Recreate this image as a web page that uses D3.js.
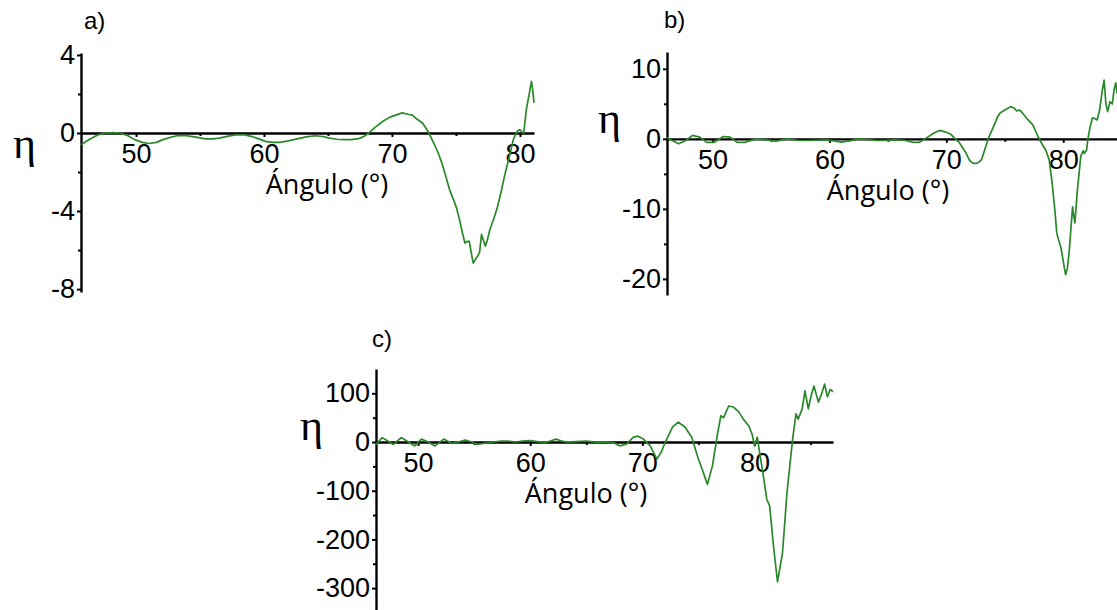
<!DOCTYPE html>
<html>
<head>
<meta charset="utf-8">
<script src="https://cdn.jsdelivr.net/npm/d3@7"></script>
<style>
  body { margin: 0; background: #fff; }
  svg { display: block; }
</style>
</head>
<body>
<svg id="fig" width="1117" height="610"></svg>
<script>
// panel a) angle (deg) and eta
const angA = [45.7, 46.3, 47.0, 47.6, 48.2, 48.75, 49.3, 49.9, 50.5, 51.0,
  51.6, 52.1, 52.7, 53.2, 53.8, 54.3, 54.9, 55.4, 56.0, 56.5,
  57.2, 57.9, 58.5, 59.0, 59.6, 60.1, 60.7, 61.25, 61.9, 62.6,
  63.3, 64.0, 64.6, 65.1, 65.7, 66.25, 66.8, 67.4, 67.8, 68.2,
  68.7, 69.3, 69.8, 70.4, 70.8, 71.25, 71.6, 71.9, 72.4, 72.8,
  73.2, 73.6, 73.9, 74.2, 74.5, 74.8, 75.05, 75.3, 75.5, 75.7,
  75.9, 76.04, 76.2, 76.35, 76.5, 76.7, 76.85, 77.0, 77.15, 77.3,
  77.45, 77.65, 77.9, 78.2, 78.5, 78.8, 79.1, 79.5, 79.8, 80.0,
  80.15, 80.3, 80.5, 80.7, 80.9, 81.0, 81.1];
const etaA = [-0.6, -0.35, -0.1, 0, 0.02, 0, -0.12, -0.34, -0.48, -0.54,
  -0.48, -0.34, -0.22, -0.14, -0.13, -0.17, -0.24, -0.3, -0.3, -0.26,
  -0.16, -0.09, -0.1, -0.17, -0.3, -0.43, -0.48, -0.48, -0.4, -0.3,
  -0.2, -0.14, -0.18, -0.26, -0.32, -0.34, -0.34, -0.29, -0.18, 0,
  0.3, 0.6, 0.8, 0.94, 1.03, 0.96, 0.92, 0.74, 0.5, 0.1,
  -0.43, -1.0, -1.54, -2.2, -2.9, -3.4, -3.85, -4.5, -5.1, -5.64,
  -5.55, -5.56, -6.15, -6.67, -6.5, -6.3, -6.1, -5.2, -5.5, -5.8,
  -5.5, -4.96, -4.5, -3.9, -3.1, -2.2, -1.4, -0.3, 0.1, 0.17,
  0.05, 0, 1.2, 1.9, 2.65, 2.2, 1.54];

// panel b)
const angB = [46.1, 46.5, 47.1, 47.7, 48.3, 48.9, 49.5, 50.15, 50.9, 51.5,
  52.1, 52.75, 53.7, 54.6, 55.4, 56.4, 57.2, 58.0, 58.9, 59.8,
  60.4, 61.0, 61.7, 62.5, 63.3, 64.1, 64.8, 65.6, 66.4, 67.1,
  67.7, 68.4, 68.9, 69.4, 69.9, 70.35, 70.7, 71.1, 71.6, 72.0,
  72.3, 72.6, 72.8, 73.0, 73.3, 73.6, 74.0, 74.4, 74.6, 74.9,
  75.2, 75.5, 75.8, 76.0, 76.3, 76.6, 77.0, 77.4, 77.85, 78.2,
  78.5, 78.8, 79.05, 79.3, 79.45, 79.6, 79.8, 80.0, 80.2, 80.35,
  80.5, 80.65, 80.8, 80.9, 81.0, 81.2, 81.5, 81.7, 81.8, 82.0,
  82.1, 82.3, 82.5, 82.7, 82.9, 83.1, 83.35, 83.5, 83.65, 83.8,
  84.0, 84.2, 84.35, 84.5, 84.6];
const etaB = [0.2, -0.2, -0.7, -0.24, 0.5, 0.24, -0.5, -0.5, 0.33, 0.24,
  -0.5, -0.5, 0, -0.14, -0.33, 0, -0.2, -0.24, -0.2, -0.14,
  -0.3, -0.48, -0.3, 0, -0.1, -0.24, -0.2, -0.14, -0.2, -0.48,
  -0.5, 0.24, 0.8, 1.2, 1.0, 0.7, 0.1, -0.5, -1.8, -3.1,
  -3.5, -3.5, -3.3, -3.0, -1.5, 0.1, 1.6, 3.2, 3.7, 4.0,
  4.3, 4.6, 4.4, 4.0, 4.1, 3.5, 2.7, 2.0, 0.3, -0.8,
  -1.6, -3.0, -6.3, -10.5, -13.5, -14.4, -15.5, -17.5, -19.4, -18.5,
  -16.3, -13, -9.7, -11, -12, -7.5, -2.5, -1.7, -2.1, -1.6,
  -0.1, 1.7, 3.0, 2.9, 2.7, 4.0, 7.0, 8.4, 5.0, 3.9,
  5.3, 5.0, 7.0, 8.0, 6.5];

// panel c)
const angC = [46.25, 46.8, 47.3, 47.8, 48.5, 49.0, 49.7, 50.3, 51.0, 51.5,
  52.3, 53.0, 53.6, 54.2, 54.8, 55.3, 56.0, 56.7, 57.4, 58.0,
  58.7, 59.3, 60.0, 60.6, 61.3, 61.8, 62.3, 62.8, 63.3, 64.1,
  65.0, 65.8, 66.7, 67.5, 68.0, 68.6, 69.2, 69.6, 70.1, 70.7,
  71.3, 71.7, 72.05, 72.7, 73.2, 73.8, 74.4, 75.0, 75.4, 75.8,
  76.25, 76.7, 77.0, 77.25, 77.7, 78.1, 78.6, 79.0, 79.5, 79.8,
  80.0, 80.25, 80.45, 80.7, 81.1, 81.35, 81.7, 82.05, 82.5, 82.9,
  83.4, 83.7, 83.9, 84.25, 84.5, 84.8, 85.05, 85.3, 85.7, 86.0,
  86.25, 86.5, 86.75, 87.0];
const etaC = [-5, 9, 2, -5, 9, 2, -8, 6, -1, -8,
  6, -3, 0, 4, 0, -5, -2, 0, 2, 2,
  0, 2, 3, 1, -1, 2, 6, 2, 0, 1,
  2, 0, 0, -2, -8, -4, 10, 12, 6, -8,
  -35, -20, 0, 31, 41, 31, 10, -35, -60, -87,
  -49, 16, 54, 50, 74, 72, 62, 47, 33, 15,
  -8, 10, -20, -56, -118, -131, -215, -287, -227, -103,
  6, 58, 47, 68, 105, 68, 95, 115, 82, 100,
  119, 93, 108, 103];

// ticks
const xMajor = [50, 60, 70, 80];
const xMinor = [55, 65, 75, 85];
const yMajorA = [4, 0, -4, -8], yMinorA = [2, -2, -6];
const yMajorB = [10, 0, -10, -20], yMinorB = [5, -5, -15];
const yMajorC = [100, 0, -100, -200, -300], yMinorC = [50, -50, -150, -250];

const green = "#2a882a";
const svg = d3.select("#fig");
const plain = d => String(d); // keep the plain hyphen of the original

const panels = [
  { tag: "a)", ang: angA, eta: etaA, yMajor: yMajorA, yMinor: yMinorA,
    xDom: [45.7, 81.1], xRange: [81, 534], yDom: [4.1, -8.15], yRange: [53, 292],
    tagPos: [84, 29], etaPos: [13, 158], labelPos: [327, 194] },
  { tag: "b)", ang: angB, eta: etaB, yMajor: yMajorB, yMinor: yMinorB,
    xDom: [46.1, 84.6], xRange: [667, 1117], yDom: [12.4, -22.3], yRange: [52, 295],
    tagPos: [664, 28], etaPos: [598, 133], labelPos: [888, 200] },
  { tag: "c)", ang: angC, eta: etaC, yMajor: yMajorC, yMinor: yMinorC,
    xDom: [46.25, 87.0], xRange: [376, 833], yDom: [150, -345], yRange: [369, 610],
    tagPos: [372, 347], etaPos: [300, 440], labelPos: [586, 503] }
];

panels.forEach(drawPanel);

function drawPanel(p) {
  const x = d3.scaleLinear().domain(p.xDom).range(p.xRange);
  const y = d3.scaleLinear().domain(p.yDom).range(p.yRange);
  const g = svg.append("g");

  // y axis
  g.append("g")
    .attr("transform", `translate(${p.xRange[0]},0)`)
    .call(d3.axisLeft(y).tickValues(p.yMajor).tickSize(4).tickSizeOuter(0).tickPadding(2)
      .tickFormat(plain));
  g.append("g")
    .attr("transform", `translate(${p.xRange[0]},0)`)
    .call(d3.axisLeft(y).tickValues(p.yMinor).tickSize(3).tickFormat(""))
    .call(s => s.select(".domain").remove());

  // x axis on eta = 0
  g.append("g")
    .attr("transform", `translate(0,${y(0)})`)
    .call(d3.axisBottom(x).tickValues(xMajor.filter(v => v < p.xDom[1]))
      .tickSize(4).tickSizeOuter(0).tickPadding(7).tickFormat(plain));
  g.append("g")
    .attr("transform", `translate(0,${y(0)})`)
    .call(d3.axisBottom(x).tickValues(xMinor.filter(v => v < p.xDom[1]))
      .tickSize(3).tickFormat(""))
    .call(s => s.select(".domain").remove());

  g.selectAll(".domain").attr("stroke", "#000").attr("stroke-width", 2.4);
  g.selectAll(".tick line").attr("stroke", "#000").attr("stroke-width", 2);
  g.selectAll(".tick text")
    .attr("font-family", "'Liberation Sans', Arial, sans-serif")
    .attr("font-size", 27)
    .attr("fill", "#000");

  // the curve
  const pts = p.ang.map((a, i) => [a, p.eta[i]]);
  g.append("path")
    .datum(pts)
    .attr("fill", "none")
    .attr("stroke", green)
    .attr("stroke-width", 1.7)
    .attr("stroke-linejoin", "round")
    .attr("d", d3.line().x(d => x(d[0])).y(d => y(d[1])));

  // texts
  g.append("text")
    .attr("x", p.tagPos[0]).attr("y", p.tagPos[1])
    .attr("font-family", "'Liberation Sans', Arial, sans-serif")
    .attr("font-size", 24)
    .text(p.tag);

  g.append("text")
    .attr("x", p.etaPos[0]).attr("y", p.etaPos[1])
    .attr("font-family", "'Liberation Serif', 'Times New Roman', serif")
    .attr("font-size", 44)
    .text("η");

  g.append("text")
    .attr("x", p.labelPos[0]).attr("y", p.labelPos[1])
    .attr("text-anchor", "middle")
    .attr("font-family", "'Open Sans', sans-serif")
    .attr("font-size", 27)
    .text("Ángulo (°)");
}
</script>
</body>
</html>
